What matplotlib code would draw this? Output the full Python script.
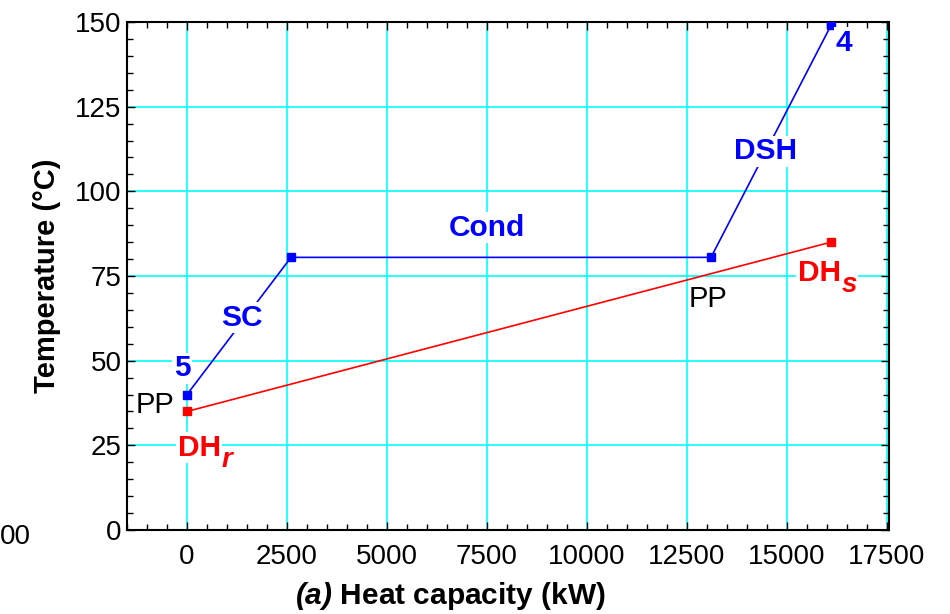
import matplotlib.pyplot as plt
from matplotlib.ticker import MultipleLocator

plt.rcParams['font.family'] = ['Liberation Sans', 'DejaVu Sans']
plt.rcParams['mathtext.fontset'] = 'custom'
plt.rcParams['mathtext.rm'] = 'Liberation Sans'
plt.rcParams['mathtext.bf'] = 'Liberation Sans:bold'
plt.rcParams['mathtext.it'] = 'Liberation Sans:italic'
plt.rcParams['mathtext.bfit'] = 'Liberation Sans:bold:italic'

# working fluid (blue): 5 -> SC -> Cond -> DSH -> 4
wf_q = [0, 2600, 13100, 16100]
wf_t = [40, 80.5, 80.5, 149]

# district heating water (red): DHr -> DHs
dh_q = [0, 16100]
dh_t = [35, 85]

fig = plt.figure(figsize=(9.5, 6.14), dpi=100)
ax = fig.add_axes([0.1337, 0.1368, 0.8021, 0.8274])

ax.plot(wf_q, wf_t, color='#0000FF', lw=1.2, marker='s', ms=6, zorder=3)
ax.plot(dh_q, dh_t, color='#FF0000', lw=1.2, marker='s', ms=6, zorder=3)

ax.set_xlim(-1500, 17550)
ax.set_ylim(0, 150)
ax.xaxis.set_major_locator(MultipleLocator(2500))
ax.xaxis.set_minor_locator(MultipleLocator(500))
ax.yaxis.set_major_locator(MultipleLocator(25))
ax.yaxis.set_minor_locator(MultipleLocator(5))
ax.grid(True, which='major', color='#00FFFF', lw=1.2, zorder=0)
ax.tick_params(which='both', direction='in', top=True, right=True, labelsize=20)
ax.tick_params(which='major', length=6, width=1)
ax.tick_params(which='minor', length=4, width=1)
ax.tick_params(axis='x', pad=10)
ax.tick_params(axis='y', pad=4)
for s in ax.spines.values():
    s.set_linewidth(1.5)

ax.set_ylabel('Temperature (°C)', fontsize=21, fontweight='bold', labelpad=10)
ax.set_xlabel(r'$\mathbfit{(a)}$ Heat capacity (kW)', fontsize=21.5, fontweight='bold')
ax.xaxis.set_label_coords(0.424, -0.099)

wb = dict(facecolor='white', edgecolor='none', pad=1)
bold = dict(fontsize=21.5, fontweight='bold', ha='center', va='center', bbox=wb, zorder=4)
ax.text(-125, 47.7, '5', color='#0000FF', **bold)
ax.text(1370, 62.6, 'SC', color='#0000FF', **bold)
ax.text(7505, 89.2, 'Cond', color='#0000FF', **bold)
ax.text(14460, 111.8, 'DSH', color='#0000FF', **bold)
ax.text(16430, 143.8, '4', color='#0000FF', **bold)

# DH labels with a large bold-italic subscript
for lx, ly, sub in [(300, 24.3, 'r'), (15810, 75.9, 's')]:
    ax.text(lx, ly, 'DH', color='#FF0000', **bold)
    ax.annotate(sub, (lx, ly), xytext=(16, -9), textcoords='offset points',
                color='#FF0000', fontsize=20, fontweight='bold', style='italic',
                ha='left', va='center', bbox=wb, zorder=4)

norm = dict(fontsize=21, ha='center', va='center', color='black', zorder=4)
ax.text(-800, 37, 'PP', **norm)
ax.text(13020, 68.2, 'PP', **norm)

fig.text(0, 1 - 537 / 614, '00', fontsize=20, ha='left', va='center')

fig.savefig('out.png', dpi=100)
